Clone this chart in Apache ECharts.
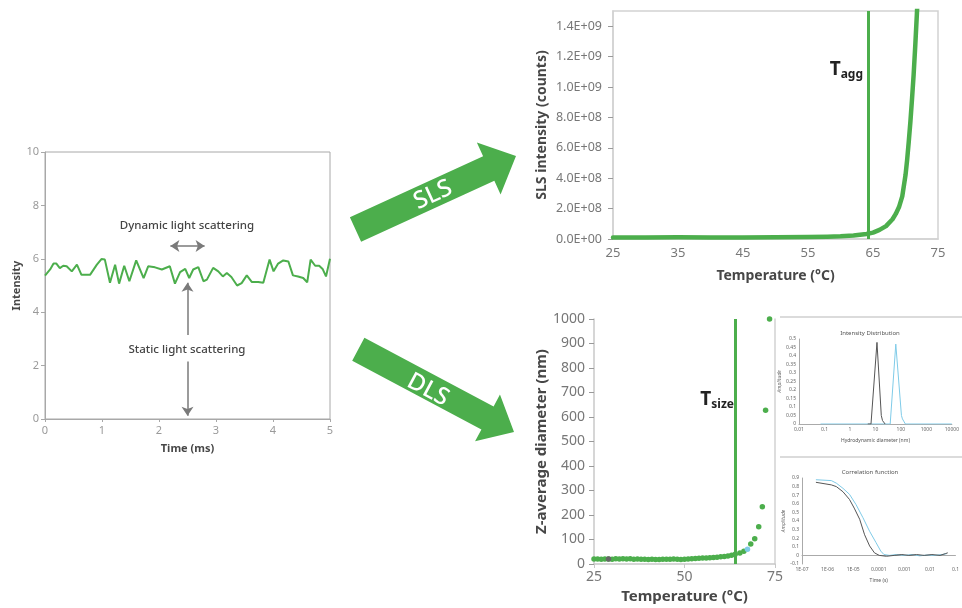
<!DOCTYPE html>
<html>
<head>
<meta charset="utf-8">
<script src="https://cdn.jsdelivr.net/npm/echarts@6/dist/echarts.min.js"></script>
<style>
  html, body { margin: 0; padding: 0; background: #fff; }
  #main { width: 962px; height: 608px; }
</style>
</head>
<body>
<div id="main"></div>
<script>
// raw scattering signal (left panel)
const timeMs = [0, 0.09, 0.15, 0.20, 0.26, 0.32, 0.38, 0.47, 0.56, 0.64, 0.79, 0.91, 0.99, 1.05, 1.14, 1.23, 1.30, 1.39, 1.48, 1.60,
  1.73, 1.81, 1.93, 2.05, 2.19, 2.28, 2.37, 2.46, 2.53, 2.60, 2.69, 2.78, 2.84, 2.95, 3.04, 3.12, 3.19, 3.27, 3.37, 3.45,
  3.54, 3.63, 3.74, 3.83, 3.94, 4.01, 4.09, 4.18, 4.27, 4.35, 4.44, 4.53, 4.60, 4.66, 4.74, 4.81, 4.87, 4.93, 5.00];
const intensity = [5.37, 5.6, 5.82, 5.82, 5.65, 5.74, 5.72, 5.53, 5.78, 5.4, 5.4, 5.78, 5.99, 5.97, 5.1, 5.78, 5.07, 5.74, 5.16, 5.94,
  5.28, 5.72, 5.68, 5.6, 5.72, 5.07, 5.5, 5.62, 5.28, 5.6, 5.69, 5.16, 5.22, 5.66, 5.53, 5.34, 5.47, 5.32, 5.0, 5.09,
  5.38, 5.13, 5.13, 5.1, 5.97, 5.53, 5.82, 5.94, 5.9, 5.38, 5.34, 5.28, 5.12, 5.97, 5.74, 5.74, 5.62, 5.34, 6.0];

// SLS intensity vs temperature
const slsTemp = [25, 30, 35, 40, 45, 50, 55, 58, 60, 62, 64, 65, 66, 67, 68, 68.5, 69, 69.5, 70, 70.25, 70.5, 70.75,
  71, 71.25, 71.5, 71.75, 72];
const slsCounts = [1.0e7, 1.0e7, 1.2e7, 1.0e7, 1.0e7, 1.1e7, 1.3e7, 1.5e7, 1.8e7, 2.3e7, 3.3e7, 4.2e7, 6.0e7, 8.5e7,
  1.3e8, 1.65e8, 2.1e8, 2.8e8, 4.2e8, 5.2e8, 6.4e8, 7.7e8, 9.2e8, 1.08e9, 1.27e9, 1.48e9, 1.7e9];
const slsTicks = [0, 2e8, 4e8, 6e8, 8e8, 1e9, 1.2e9, 1.4e9];
const tAgg = 64.2;

// DLS z-average vs temperature
const dlsTemp = [25, 26, 27, 28, 29, 30, 31, 32, 33, 34, 35, 36, 37, 38, 39, 40, 41, 42, 43, 44,
  45, 46, 47, 48, 49, 50, 51, 52, 53, 54, 55, 56, 57, 58, 59, 60, 61, 62, 63, 64,
  65.3, 66.4, 68.3, 69.4, 70.5, 71.5, 72.4, 73.5];
const dlsSize = [20, 20, 19, 20, 20, 19, 21, 20, 21, 20, 21, 19, 20, 19, 19, 18, 19, 18, 18, 19,
  19, 19, 20, 19, 18, 19, 20, 21, 22, 23, 24, 25, 26, 27, 28, 30, 31, 33, 36, 40,
  45, 52, 82, 103, 152, 234, 628, 1000];
const dlsGrayTemp = [29];
const dlsGraySize = [20];
const dlsBlueTemp = [67.4];
const dlsBlueSize = [60];
const tSize = 64;

// inset: intensity distribution
const distGrayD = [5, 6.7, 11.5, 17, 19, 24];
const distGrayA = [0, 0, 0.48, 0.05, 0.02, 0];
const distBlueD = [0.07, 38, 63, 105, 115, 150, 10000];
const distBlueA = [0, 0, 0.47, 0.05, 0.03, 0, 0];

// inset: correlation function
const corrGrayT = [3.5e-7, 1.4e-6, 2.2e-6, 4e-6, 7.2e-6, 1.1e-5, 1.8e-5, 2.8e-5, 4.4e-5, 6.8e-5, 1.05e-4,
  2e-4, 4e-4, 8e-4, 1.5e-3, 3e-3, 6e-3, 0.012, 0.025, 0.04, 0.05];
const corrGrayA = [0.85, 0.82, 0.80, 0.74, 0.65, 0.55, 0.42, 0.24, 0.11, 0.03, 0.0,
  -0.01, 0.0, 0.01, 0.0, 0.01, 0.0, 0.01, 0.0, 0.02, 0.03];
const corrBlueT = [3.5e-7, 1.4e-6, 2.2e-6, 4e-6, 7.2e-6, 1.3e-5, 2.4e-5, 4.4e-5, 7.8e-5, 1.2e-4, 1.6e-4,
  2.6e-4, 5e-4, 1e-3, 2e-3, 4e-3, 8e-3, 0.015, 0.03, 0.045];
const corrBlueA = [0.88, 0.87, 0.84, 0.78, 0.71, 0.59, 0.44, 0.28, 0.15, 0.05, 0.01,
  0.0, 0.01, 0.0, 0.01, -0.005, 0.005, 0.0, 0.01, 0.02];

const GREEN = '#4cae4c';
const BLUE = '#7fcbe8';
const DARK = '#555';
const FONT = 'Noto Sans';

const zip = (xs, ys) => xs.map((x, i) => [x, ys[i]]);

function sci(v) {
  if (v === 0) return '0.0E+00';
  const e = Math.floor(Math.log10(v) + 1e-9);
  const m = v / Math.pow(10, e);
  return m.toFixed(1) + 'E+' + (e < 10 ? '0' : '') + e;
}

// big block arrow outline (decoration)
function arrowPts(x0, y0, x1, y1, sw, hw, hl) {
  const L = Math.hypot(x1 - x0, y1 - y0);
  const ux = (x1 - x0) / L, uy = (y1 - y0) / L;
  const nx = -uy, ny = ux;
  const bx = x1 - ux * hl, by = y1 - uy * hl;
  return [
    [x0 + nx * sw / 2, y0 + ny * sw / 2], [bx + nx * sw / 2, by + ny * sw / 2],
    [bx + nx * hw / 2, by + ny * hw / 2], [x1, y1],
    [bx - nx * hw / 2, by - ny * hw / 2], [bx - nx * sw / 2, by - ny * sw / 2],
    [x0 - nx * sw / 2, y0 - ny * sw / 2]
  ];
}

const chart = echarts.init(document.getElementById('main'));

const nameStyle = (size) => ({ color: '#474747', fontSize: size, fontWeight: 'bold', fontFamily: FONT });
const tinyAxis = { lineStyle: { color: '#aaa', width: 1 } };

const option = {
  animation: false,
  backgroundColor: '#fff',
  textStyle: { fontFamily: FONT },
  grid: [
    { left: 45, top: 152, width: 285, height: 267, show: true, borderColor: '#a8a8a8', borderWidth: 1 },
    { left: 613, top: 11, width: 325, height: 228, show: true, borderColor: '#d2d2d2', borderWidth: 1.5 },
    { left: 594, top: 319, width: 181, height: 245 },
    { left: 799, top: 339, width: 154, height: 85 },
    { left: 802, top: 478, width: 155, height: 86 }
  ],
  xAxis: [
    {
      gridIndex: 0, type: 'value', min: 0, max: 5, interval: 1,
      axisLine: { lineStyle: { color: '#a8a8a8' } },
      axisTick: { show: true, length: 3, lineStyle: { color: '#a8a8a8' } },
      axisLabel: { color: '#9a9a9a', fontSize: 11, margin: 6 },
      splitLine: { show: false },
      name: 'Time (ms)', nameLocation: 'middle', nameGap: 24, nameTextStyle: nameStyle(11)
    },
    {
      gridIndex: 1, type: 'value', min: 25, max: 75, interval: 10,
      axisLine: { lineStyle: { color: '#d2d2d2', width: 1.5 } },
      axisTick: { show: false },
      axisLabel: { color: '#777', fontSize: 13, margin: 8 },
      splitLine: { show: false },
      name: 'Temperature (°C)', nameLocation: 'middle', nameGap: 30, nameTextStyle: nameStyle(14)
    },
    {
      gridIndex: 2, type: 'value', min: 25, max: 75, interval: 25,
      axisLine: { lineStyle: { color: '#c8c8c8', width: 1.5 } },
      axisTick: { show: true, length: 4, lineStyle: { color: '#c8c8c8' } },
      axisLabel: { color: '#777', fontSize: 14, margin: 6 },
      splitLine: { show: false },
      name: 'Temperature (°C)', nameLocation: 'middle', nameGap: 25, nameTextStyle: nameStyle(15)
    },
    {
      gridIndex: 3, type: 'log', logBase: 10, min: 0.01, max: 10000,
      axisLine: tinyAxis, axisTick: { show: false },
      axisLabel: { color: '#666', fontSize: 5, margin: 3, formatter: (v) => String(+(+v).toPrecision(1)) },
      splitLine: { show: false },
      name: 'Hydrodynamic diameter (nm)', nameLocation: 'middle', nameGap: 14,
      nameTextStyle: { color: '#555', fontSize: 5 }
    },
    {
      gridIndex: 4, type: 'log', logBase: 10, min: 1e-7, max: 0.1,
      axisLine: tinyAxis, axisTick: { show: false },
      axisLabel: {
        color: '#666', fontSize: 5, margin: 3,
        formatter: (v) => v < 1e-4 ? '1E-0' + Math.round(-Math.log10(v)) : String(+(+v).toPrecision(1))
      },
      splitLine: { show: false },
      name: 'Time (s)', nameLocation: 'middle', nameGap: 14,
      nameTextStyle: { color: '#555', fontSize: 5 }
    }
  ],
  yAxis: [
    {
      gridIndex: 0, type: 'value', min: 0, max: 10, interval: 2,
      axisLine: { show: true, lineStyle: { color: '#a8a8a8' } },
      axisTick: { show: true, length: 4, lineStyle: { color: '#a8a8a8' } },
      axisLabel: { color: '#9a9a9a', fontSize: 11, margin: 6 },
      splitLine: { show: false },
      name: 'Intensity', nameLocation: 'middle', nameGap: 22, nameTextStyle: nameStyle(11)
    },
    {
      gridIndex: 1, type: 'value', min: 0, max: 1.5e9,
      axisLine: { show: true, lineStyle: { color: '#d2d2d2', width: 1.5 } },
      axisTick: { show: true, length: 5, customValues: slsTicks, lineStyle: { color: '#999' } },
      axisLabel: { color: '#777', fontSize: 12.5, margin: 11, customValues: slsTicks, formatter: sci },
      splitLine: { show: false },
      name: 'SLS intensity (counts)', nameLocation: 'middle', nameGap: 64, nameTextStyle: nameStyle(14)
    },
    {
      gridIndex: 2, type: 'value', min: 0, max: 1000, interval: 100,
      axisLine: { show: true, lineStyle: { color: '#c8c8c8', width: 1.5 } },
      axisTick: { show: true, length: 5, lineStyle: { color: '#999' } },
      axisLabel: { color: '#777', fontSize: 14, margin: 9, formatter: (v) => String(v) },
      splitLine: { show: false },
      name: 'Z-average diameter (nm)', nameLocation: 'middle', nameGap: 43, nameTextStyle: nameStyle(15)
    },
    {
      gridIndex: 3, type: 'value', min: 0, max: 0.5, interval: 0.05,
      axisLine: { show: true, lineStyle: { color: '#aaa' } }, axisTick: { show: false },
      axisLabel: { color: '#666', fontSize: 5, margin: 3, formatter: (v) => String(+v.toFixed(2)) },
      splitLine: { show: false },
      name: 'Amplitude', nameLocation: 'middle', nameGap: 15,
      nameTextStyle: { color: '#666', fontSize: 5, fontStyle: 'italic' }
    },
    {
      gridIndex: 4, type: 'value', min: -0.1, max: 0.9, interval: 0.1,
      axisLine: { show: true, lineStyle: { color: '#aaa' } }, axisTick: { show: false },
      axisLabel: { color: '#666', fontSize: 5, margin: 3, formatter: (v) => String(+v.toFixed(1)) },
      splitLine: { show: false },
      name: 'Amplitude', nameLocation: 'middle', nameGap: 12,
      nameTextStyle: { color: '#666', fontSize: 5, fontStyle: 'italic' }
    },
    {
      // right frame edge of the DLS panel
      gridIndex: 2, type: 'value', position: 'right', min: 0, max: 1000,
      axisLine: { show: true, lineStyle: { color: '#d2d2d2', width: 1.5 } },
      axisTick: { show: false }, axisLabel: { show: false }, splitLine: { show: false }
    }
  ],
  series: [
    {
      type: 'line', xAxisIndex: 0, yAxisIndex: 0,
      data: zip(timeMs, intensity),
      showSymbol: false,
      lineStyle: { color: GREEN, width: 2 },
      markLine: {
        silent: true, symbolSize: 9,
        lineStyle: { color: '#7a7a7a', width: 1.5, type: 'solid' },
        label: { show: false },
        data: [
          [{ coord: [2.2, 6.48], symbol: 'arrow' }, { coord: [2.8, 6.48], symbol: 'arrow' }],
          [{ coord: [2.5, 3.15], symbol: 'none' }, { coord: [2.5, 5.1], symbol: 'arrow' }],
          [{ coord: [2.5, 2.15], symbol: 'none' }, { coord: [2.5, 0.12], symbol: 'arrow' }]
        ]
      }
    },
    {
      type: 'line', xAxisIndex: 1, yAxisIndex: 1,
      data: zip(slsTemp, slsCounts),
      showSymbol: false, smooth: false,
      lineStyle: { color: GREEN, width: 4.5, join: 'round', cap: 'round' },
      markLine: {
        silent: true, symbol: 'none', label: { show: false },
        lineStyle: { color: GREEN, width: 3, type: 'solid' },
        data: [{ xAxis: tAgg }]
      }
    },
    {
      type: 'scatter', xAxisIndex: 2, yAxisIndex: 2,
      data: zip(dlsTemp, dlsSize),
      symbolSize: 5.5,
      itemStyle: { color: GREEN, opacity: 1 },
      markLine: {
        silent: true, symbol: 'none', label: { show: false },
        lineStyle: { color: GREEN, width: 3, type: 'solid' },
        data: [{ xAxis: tSize }]
      }
    },
    {
      type: 'scatter', xAxisIndex: 2, yAxisIndex: 2,
      data: zip(dlsGrayTemp, dlsGraySize), symbolSize: 5.5, itemStyle: { color: '#666', opacity: 1 }
    },
    {
      type: 'scatter', xAxisIndex: 2, yAxisIndex: 2,
      data: zip(dlsBlueTemp, dlsBlueSize), symbolSize: 5.5, itemStyle: { color: BLUE, opacity: 1 }
    },
    {
      type: 'line', xAxisIndex: 3, yAxisIndex: 3,
      data: zip(distBlueD, distBlueA), showSymbol: false,
      lineStyle: { color: BLUE, width: 1 }
    },
    {
      type: 'line', xAxisIndex: 3, yAxisIndex: 3,
      data: zip(distGrayD, distGrayA), showSymbol: false,
      lineStyle: { color: DARK, width: 1 }
    },
    {
      type: 'line', xAxisIndex: 4, yAxisIndex: 4,
      data: zip(corrBlueT, corrBlueA), showSymbol: false,
      lineStyle: { color: BLUE, width: 1 }
    },
    {
      type: 'line', xAxisIndex: 4, yAxisIndex: 4,
      data: zip(corrGrayT, corrGrayA), showSymbol: false,
      lineStyle: { color: DARK, width: 1 }
    }
  ],
  graphic: [
    { type: 'polygon', shape: { points: arrowPts(355.5, 229.5, 516, 156, 27, 57, 30) }, style: { fill: GREEN } },
    { type: 'polygon', shape: { points: arrowPts(358.3, 349.2, 514, 432, 26, 53, 30) }, style: { fill: GREEN } },
    {
      type: 'text', x: 433, y: 195, rotation: 0.43,
      style: { text: 'SLS', fill: '#fff', font: '500 24px "Noto Sans"', align: 'center', verticalAlign: 'middle' }
    },
    {
      type: 'text', x: 428, y: 390, rotation: -0.49,
      style: { text: 'DLS', fill: '#fff', font: '500 24px "Noto Sans"', align: 'center', verticalAlign: 'middle' }
    },
    {
      type: 'text', x: 187, y: 226,
      style: { text: 'Dynamic light scattering', fill: '#444', font: '500 11.5px "Noto Sans"', align: 'center', verticalAlign: 'middle' }
    },
    {
      type: 'text', x: 187, y: 350,
      style: { text: 'Static light scattering', fill: '#444', font: '500 11.5px "Noto Sans"', align: 'center', verticalAlign: 'middle' }
    },
    {
      type: 'text', x: 863, y: 70,
      style: {
        text: '{a|T}{b|agg}', align: 'right', verticalAlign: 'middle',
        rich: {
          a: { fontSize: 19, fontWeight: 'bold', fill: '#222', fontFamily: FONT, lineHeight: 24 },
          b: { fontSize: 12, fontWeight: 'bold', fill: '#222', fontFamily: FONT, lineHeight: 24, padding: [10, 0, 0, 0] }
        }
      }
    },
    {
      type: 'text', x: 734, y: 400,
      style: {
        text: '{a|T}{b|size}', align: 'right', verticalAlign: 'middle',
        rich: {
          a: { fontSize: 19, fontWeight: 'bold', fill: '#222', fontFamily: FONT, lineHeight: 24 },
          b: { fontSize: 12, fontWeight: 'bold', fill: '#222', fontFamily: FONT, lineHeight: 24, padding: [10, 0, 0, 0] }
        }
      }
    },
    { type: 'line', shape: { x1: 780, y1: 317, x2: 962, y2: 317 }, style: { stroke: '#cfcfcf', lineWidth: 1.5 } },
    { type: 'line', shape: { x1: 780, y1: 457, x2: 962, y2: 457 }, style: { stroke: '#cfcfcf', lineWidth: 1.5 } },
    {
      type: 'text', x: 870, y: 333,
      style: { text: 'Intensity Distribution', fill: '#555', font: '6px "Noto Sans"', align: 'center', verticalAlign: 'middle' }
    },
    {
      type: 'text', x: 870, y: 472,
      style: { text: 'Correlation function', fill: '#555', font: '6px "Noto Sans"', align: 'center', verticalAlign: 'middle' }
    }
  ]
};

chart.setOption(option);
</script>
</body>
</html>
